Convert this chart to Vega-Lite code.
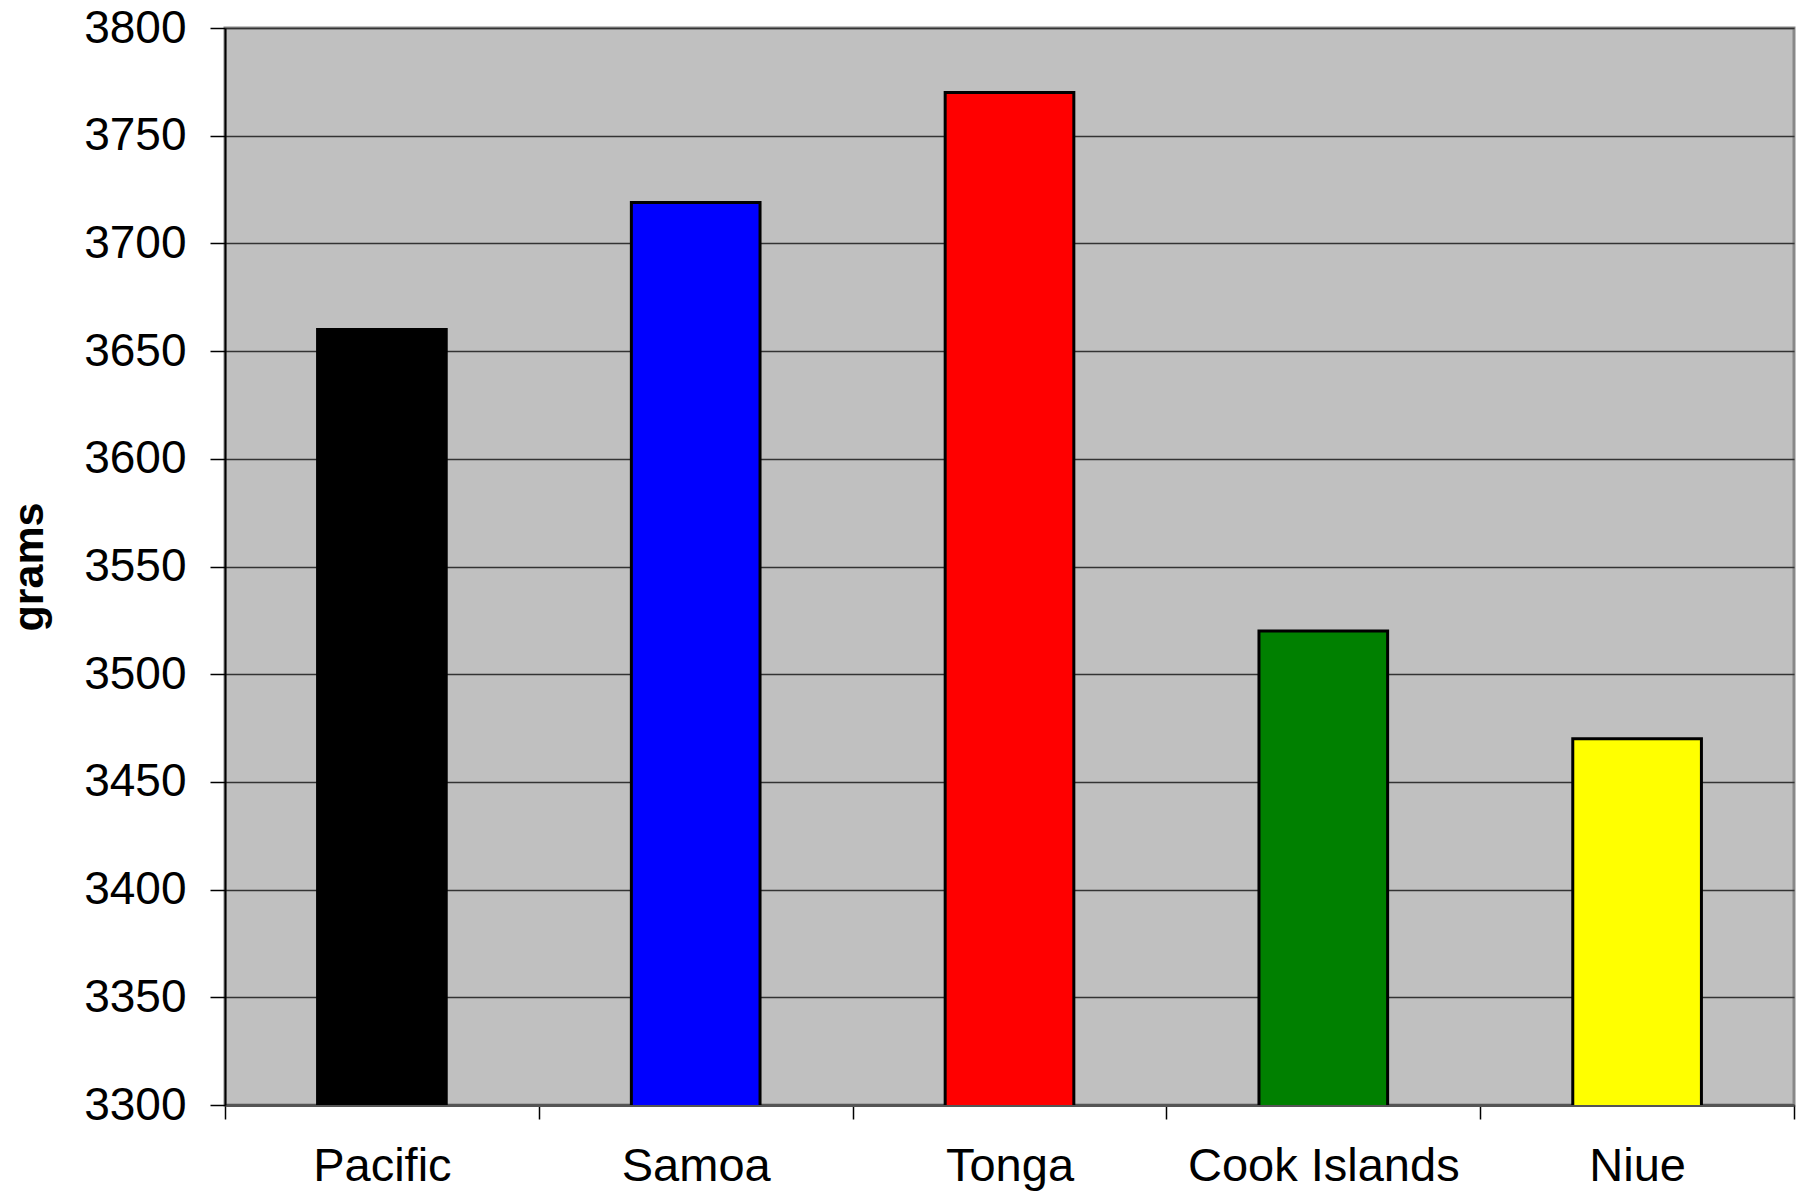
{
  "$schema": "https://vega.github.io/schema/vega-lite/v6.json",
  "width": 1569,
  "height": 1077,
  "autosize": {"type": "none"},
  "padding": {"left": 225, "top": 28, "right": 10, "bottom": 86},
  "background": "#ffffff",
  "config": {
    "view": {"fill": "#c0c0c0", "stroke": "#888888", "strokeWidth": 3},
    "font": "Liberation Sans"
  },
  "data": {
    "values": [
      {"region": "Pacific", "grams": 3660, "color": "#000000"},
      {"region": "Samoa", "grams": 3719, "color": "#0000ff"},
      {"region": "Tonga", "grams": 3770, "color": "#ff0000"},
      {"region": "Cook Islands", "grams": 3520, "color": "#008000"},
      {"region": "Niue", "grams": 3470, "color": "#ffff00"}
    ]
  },
  "mark": {"type": "bar", "width": {"band": 0.41}, "stroke": "#000000", "strokeWidth": 3, "clip": true},
  "encoding": {
    "x": {
      "field": "region",
      "type": "nominal",
      "sort": null,
      "scale": {"paddingInner": 0, "paddingOuter": 0},
      "axis": {
        "title": null,
        "labelAngle": 0,
        "labelFontSize": 47,
        "labelLimit": 0,
        "labelColor": "#000000",
        "labelPadding": 24,
        "tickBand": "extent",
        "tickSize": 14,
        "tickColor": "#000000",
        "tickWidth": 1.5,
        "domainColor": "#555555",
        "domainWidth": 3,
        "grid": false
      }
    },
    "y": {
      "field": "grams",
      "type": "quantitative",
      "scale": {"domain": [3300, 3800], "nice": false, "zero": false},
      "axis": {
        "title": "grams",
        "titleFontSize": 43,
        "titleFontWeight": "bold",
        "titleColor": "#000000",
        "titleX": -196,
        "titleBaseline": "middle",
        "values": [3300, 3350, 3400, 3450, 3500, 3550, 3600, 3650, 3700, 3750, 3800],
        "format": "d",
        "labelFontSize": 46,
        "labelColor": "#000000",
        "labelPadding": 24,
        "tickSize": 15,
        "tickColor": "#000000",
        "tickWidth": 1.5,
        "domainColor": "#000000",
        "domainWidth": 2,
        "grid": true,
        "gridColor": "#333333",
        "gridWidth": 1.3,
        "gridOpacity": 1
      }
    },
    "color": {"field": "color", "type": "nominal", "scale": null, "legend": null}
  }
}
